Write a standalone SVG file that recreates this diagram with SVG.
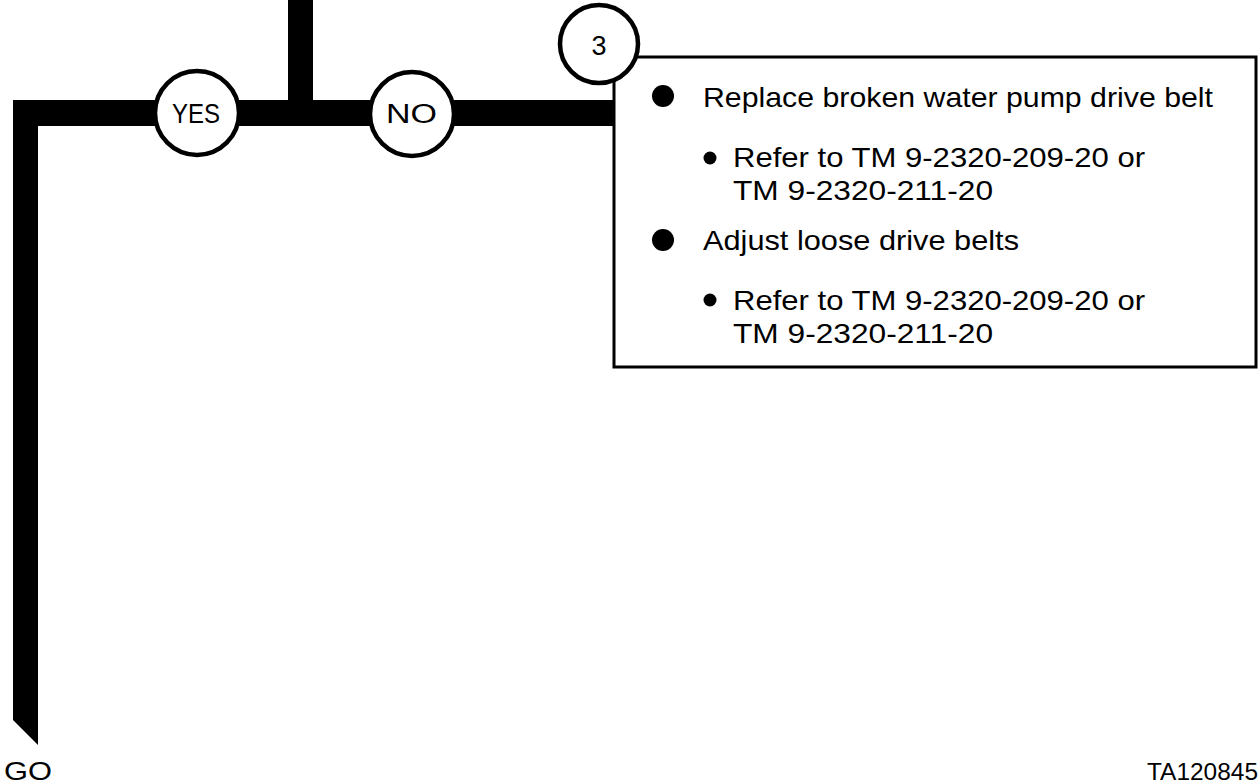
<svg xmlns="http://www.w3.org/2000/svg" width="1260" height="784" viewBox="0 0 1260 784">
<style>
.bar{fill:#000}
.circ{fill:#fff;stroke:#000;stroke-width:4.5}
.t{font-family:"Liberation Sans",Arial,sans-serif;fill:#000}
.lbl{font-size:27px}
.body{font-size:28px}
</style>
<rect width="1260" height="784" fill="#fff"/>
<g id="connectors">
<rect class="bar" x="288" y="0" width="25" height="101"/>
<rect class="bar" x="13" y="100" width="601" height="26"/>
<polygon class="bar" points="13,100 38,100 38,745 13,720"/>
</g>
<g id="yes">
<circle class="circ" cx="197" cy="113" r="42"/>
<text class="t lbl" x="172" y="123" textLength="48" lengthAdjust="spacingAndGlyphs">YES</text>
</g>
<g id="no">
<circle class="circ" cx="412" cy="114" r="42"/>
<text class="t lbl" x="386" y="123" textLength="51" lengthAdjust="spacingAndGlyphs">NO</text>
</g>
<g id="step3">
<rect x="614" y="57" width="642" height="310" fill="#fff" stroke="#000" stroke-width="3"/>
<circle class="circ" cx="599" cy="44" r="39"/>
<text class="t lbl" x="599" y="55" text-anchor="middle">3</text>
<circle cx="663" cy="96" r="11"/>
<text class="t body" x="703" y="107" textLength="510" lengthAdjust="spacingAndGlyphs">Replace broken water pump drive belt</text>
<circle cx="710" cy="158" r="6.5"/>
<text class="t body" x="733" y="167" textLength="412" lengthAdjust="spacingAndGlyphs">Refer to TM 9-2320-209-20 or</text>
<text class="t body" x="733" y="200" textLength="260" lengthAdjust="spacingAndGlyphs">TM 9-2320-211-20</text>
<circle cx="663" cy="240" r="11"/>
<text class="t body" x="703" y="250" textLength="316" lengthAdjust="spacingAndGlyphs">Adjust loose drive belts</text>
<circle cx="710" cy="300" r="6.5"/>
<text class="t body" x="733" y="310" textLength="412" lengthAdjust="spacingAndGlyphs">Refer to TM 9-2320-209-20 or</text>
<text class="t body" x="733" y="343" textLength="260" lengthAdjust="spacingAndGlyphs">TM 9-2320-211-20</text>
</g>
<g id="go">
<text class="t" x="4" y="780" font-size="25" textLength="48" lengthAdjust="spacingAndGlyphs">GO</text>
</g>
<g id="ref">
<text class="t" x="1147" y="780" font-size="23" textLength="111" lengthAdjust="spacingAndGlyphs">TA120845</text>
</g>
</svg>
